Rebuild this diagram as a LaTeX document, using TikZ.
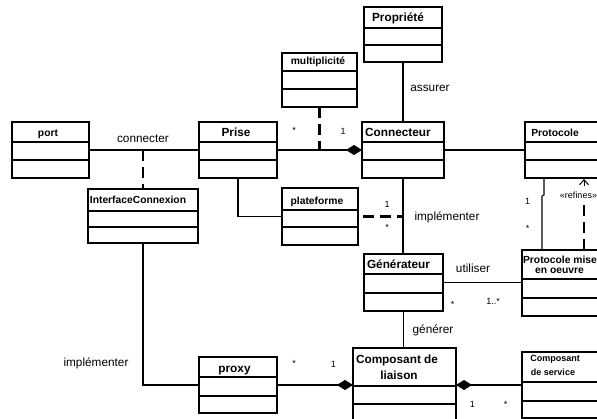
\documentclass[tikz,border=0pt]{standalone}
\usepackage{fontspec}
\setmainfont{Liberation Sans}
\usetikzlibrary{arrows.meta,calc}
\newcommand\umlclass[7]{%
  \node[umlbox, minimum width={(#4)-(#2)}, minimum height={(#5)-(#3)}] (#1) at ({((#2)+(#4))/2},{((#3)+(#5))/2}) {};
  \draw[boxline] (#2,#6) -- (#4,#6) (#2,#7) -- (#4,#7);}
\begin{document}
\begin{tikzpicture}[x=1pt,y=-1pt,
  umlbox/.style={draw, line width=1.1pt, rectangle, inner sep=0pt, outer sep=0pt},
  boxline/.style={line width=1.1pt},
  bigt/.style={font=\fontsize{11.8}{13}\selectfont\bfseries, inner sep=0pt, anchor=base},
  midt/.style={font=\fontsize{10.3}{12}\selectfont\bfseries, inner sep=0pt, anchor=base},
  smallt/.style={font=\fontsize{10.3}{12}\selectfont\bfseries, inner sep=0pt, anchor=base},
  tinyt/.style={font=\fontsize{9}{10}\selectfont\bfseries, inner sep=0pt, anchor=base},
  lbl/.style={font=\fontsize{11.8}{13}\selectfont, inner sep=0pt, anchor=base},
  mult/.style={font=\fontsize{9}{10}\selectfont, inner sep=0pt},
  assoc/.style={line width=1.1pt},
  dep/.style={line width=2.6pt, dash pattern=on 11pt off 6pt},
  comp/.style={line width=1.1pt, -{Diamond[length=16pt,width=10pt]}},
  compstart/.style={line width=1.1pt, {Diamond[length=16pt,width=10pt]}-},
  refarrow/.style={line width=1pt, -{Straight Barb[length=5pt,width=9pt]}},
]
\useasboundingbox (0,0) rectangle (597,419);
\clip (0,0) rectangle (597,419);
\fill[white] (0,0) rectangle (597,419);

% classes
\umlclass{port}{12}{122}{89}{178}{142}{160}
\umlclass{prise}{199}{122}{277}{178}{142}{160}
\umlclass{mult}{282}{53}{357}{107}{71}{89}
\umlclass{prop}{364}{7}{442}{62}{28}{45}
\umlclass{conn}{362}{122}{444}{178}{142}{160}
\umlclass{proto}{525}{122}{610}{178}{142}{160}
\umlclass{interf}{88}{189}{198}{243}{211}{227}
\umlclass{plat}{282}{188}{358}{245}{210}{227}
\umlclass{gen}{364}{254}{443}{311}{274}{293}
\umlclass{pmise}{522}{250}{610}{316}{279}{298}
\umlclass{proxy}{199}{357}{277}{413}{377}{396}
\umlclass{liaison}{353}{348}{456}{430}{386}{404}
\umlclass{serv}{522}{352}{610}{418}{382}{401}

% titles
\node[smallt] (port-t) at (48,136.5) {port};
\node[bigt] (prise-t) at (236,137) {Prise};
\node[smallt] (mult-t) at (318,64.7) {multiplicité};
\node[bigt] (prop-t) at (398,21.5) {Propriété};
\node[bigt] (conn-t) at (398,137) {Connecteur};
\node[midt] (proto-t) at (555,136.5) {Protocole};
\node[smallt] (interf-t) at (138,203.7) {InterfaceConnexion};
\node[smallt] (plat-t) at (317,204.3) {plateforme};
\node[bigt] (gen-t) at (398.5,268.5) {Générateur};
\node[midt] (pmise-t1) at (560,263.5) {Protocole mise};
\node[midt] (pmise-t2) at (559.5,274) {en oeuvre};
\node[bigt] (proxy-t) at (234.5,372.5) {proxy};
\node[bigt] (liaison-t1) at (397,363.5) {Composant de};
\node[bigt] (liaison-t2) at (399,380) {liaison};
\node[tinyt] (serv-t1) at (555,362) {Composant};
\node[tinyt] (serv-t2) at (553,376) {de service};

% connectors
\draw[assoc] (port.east) -- (prise.west);
\draw[dep] (interf.north |- port.east) -- (interf.north);
\draw[comp] (prise.east) -- (conn.west);
\draw[dep] (mult.south) -- (mult.south |- prise.east);
\draw[assoc] (prop.south) -- (prop.south |- conn.north);
\draw[assoc] (conn.east) -- (proto.west);
\draw[assoc] (prise.south) |- (plat.west);
\draw[assoc] (conn.south) -- (conn.south |- gen.north);
\draw[dep] ([xshift=5pt]plat.east) -- (plat.east -| conn.south);
\draw[assoc] ([xshift=19pt]proto.south west) -- ++(0,17) -- ++(-2,1) -- ([xshift=20pt]pmise.north west);
\node[font=\fontsize{9}{10}\selectfont, inner sep=0pt] (refines) at (578.5,195) {«refines»};
\draw[dep] ([xshift=62pt]pmise.north west) -- ([xshift=5.5pt,yshift=-3pt]refines.south);
\draw[refarrow] ([xshift=5.5pt,yshift=5pt]refines.north) -- ([xshift=5.5pt,yshift=-1pt]refines.north |- proto.south);
\draw[assoc] (gen.east) -- (gen.east -| pmise.west);
\draw[assoc] (gen.south) -- (gen.south |- liaison.north);
\draw[assoc] (interf.south) |- (proxy.west);
\draw[comp] (proxy.east) -- (liaison.west |- proxy.east);
\draw[compstart] (liaison.east |- serv.west) -- (serv.west);

% labels
\node[lbl] (l-connecter) at (143,143) {connecter};
\node[lbl] (l-assurer) at (430,91.5) {assurer};
\node[lbl] (l-impl1) at (447,220.5) {implémenter};
\node[lbl] (l-util) at (473,273) {utiliser};
\node[lbl] (l-gen) at (433,334) {générer};
\node[lbl] (l-impl2) at (96,367) {implémenter};

% multiplicities
\node[mult] (m1) at (294,130) {*};
\node[mult] (m2) at (343,131) {1};
\node[mult] (m3) at (387,204.3) {1};
\node[mult] (m4) at (387,227) {*};
\node[mult] (m5) at (527.7,201) {1};
\node[mult] (m6) at (527.7,228) {*};
\node[mult] (m7) at (452.7,304) {*};
\node[mult] (m8) at (493,301.5) {1..*};
\node[mult] (m9) at (294,363.7) {*};
\node[mult] (m10) at (333.3,364.3) {1};
\node[mult] (m11) at (472.3,404) {1};
\node[mult] (m12) at (505.7,404) {*};
\end{tikzpicture}
\end{document}
